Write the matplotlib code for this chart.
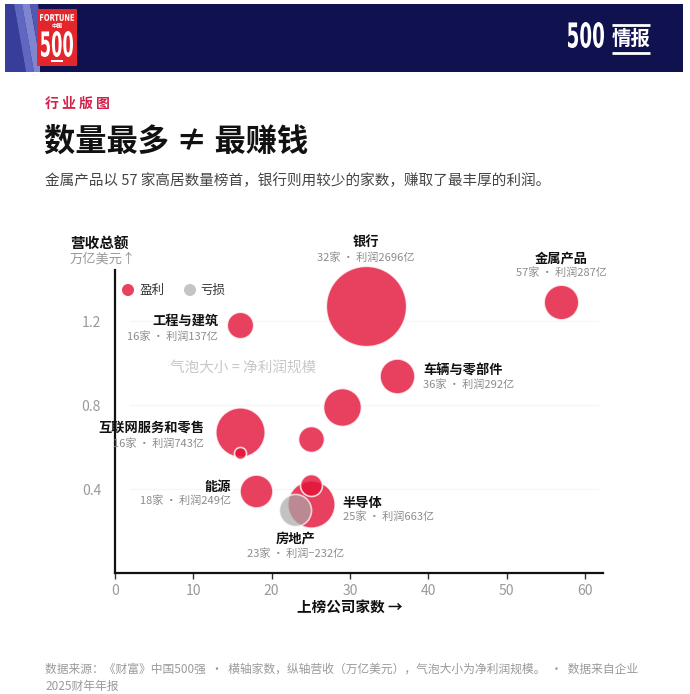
import matplotlib
matplotlib.use('Agg')
import matplotlib.pyplot as plt
from matplotlib.patches import Rectangle, Polygon, PathPatch, Circle
from matplotlib.textpath import TextPath
from matplotlib.font_manager import FontProperties
from matplotlib.transforms import Affine2D

plt.rcParams['font.family'] = ['Noto Sans CJK SC', 'DejaVu Sans']

# ---------------- data ----------------
names = ['银行', '金属产品', '工程与建筑', '车辆与零部件', '互联网服务和零售',
         '能源', '半导体', '房地产', '', '', '', '']
counts = [32, 57, 16, 36, 16, 18, 25, 23, 29, 25, 25, 16]
revenue = [1.27, 1.29, 1.18, 0.94, 0.67, 0.39, 0.33, 0.30, 0.79, 0.64, 0.42, 0.57]
profit = [2696, 287, 137, 292, 743, 249, 663, -232, 366, 130, 81, 14]
x_ticks = [0, 10, 20, 30, 40, 50, 60]
y_ticks = [0.4, 0.8, 1.2]
y_tick_labels = ['0.4', '0.8', '1.2']

# ---------------- layout / style ----------------
W, H, DPI = 690, 694, 100
RED = '#e21237'
GRAY = '#a8a8a8'
label_layout = {
    '银行': ('center', 0, 64, 49),
    '金属产品': ('center', 0, 44, 29),
    '工程与建筑': ('right', -22, 4, -11),
    '车辆与零部件': ('left', 26, 5, -9),
    '互联网服务和零售': ('right', -36, 5, -11),
    '能源': ('right', -25, 4, -10),
    '半导体': ('left', 32, 1, -13),
    '房地产': ('center', 0, -29, -44),
}


def radius_px(p):
    return 1 + 1.8 * abs(p) ** 0.39


fig = plt.figure(figsize=(W / DPI, H / DPI), dpi=DPI)
fig.patch.set_facecolor('white')

# overlay axes in pixel coordinates
ov = fig.add_axes([0, 0, 1, 1])
ov.set_xlim(0, W)
ov.set_ylim(H, 0)
ov.axis('off')


def fit_text_path(ax, s, x0, y0, x1, y1, color, family='DejaVu Sans'):
    tp = TextPath((0, 0), s, size=50, prop=FontProperties(family=family, weight='bold'))
    bb = tp.get_extents()
    sx = (x1 - x0) / bb.width
    sy = (y1 - y0) / bb.height
    tr = Affine2D().translate(-bb.x0, -bb.y0).scale(sx, -sy).translate(x0, y1)
    path = tr.transform_path(tp)
    ax.add_patch(PathPatch(path, facecolor=color, edgecolor='none', zorder=5))


# header band
ov.add_patch(Rectangle((5, 4), 678, 68, facecolor='#10114f', edgecolor='none', zorder=1))
stripe_cols = ['#3d43a3', '#6a71cf', '#8d93df', '#5a61c0']
stripes = [[(5, 4), (14, 4), (26, 72), (5, 72)],
           [(14, 4), (22, 4), (34, 72), (26, 72)],
           [(22, 4), (30, 4), (40, 60), (40, 72), (34, 72)],
           [(30, 4), (38, 4), (40, 20), (40, 60)]]
for poly, c in zip(stripes, stripe_cols):
    ov.add_patch(Polygon(poly, closed=True, facecolor=c, edgecolor='none', zorder=2, alpha=0.9))
# fortune logo
ov.add_patch(Rectangle((37, 9), 40, 57, facecolor='#e3262b', edgecolor='none', zorder=3))
fit_text_path(ov, 'FORTUNE', 40, 14, 74, 21, 'white')
ov.text(57, 26, '中国', color='white', fontsize=4, ha='center', va='center',
        fontweight='bold', zorder=6)
fit_text_path(ov, '500', 41, 31, 73, 57, 'white')
ov.add_patch(Rectangle((51, 60), 12, 2, facecolor='white', edgecolor='none', zorder=6))
# 500 情报
fit_text_path(ov, '500', 568, 22, 604, 48, 'white')
ov.text(631, 39, '情报', color='white', fontsize=14, fontweight='bold',
        ha='center', va='center', zorder=6)
ov.plot([612, 650], [25, 25], color='white', lw=2, zorder=6, solid_capstyle='butt')
ov.plot([612, 650], [53, 53], color='white', lw=2, zorder=6, solid_capstyle='butt')

# titles
ov.text(45, 104, '行 业 版 图', color='#d4204a', fontsize=10, fontweight='bold', va='center')
ov.text(44, 142, '数量最多 ≠ 最赚钱', color='#111111', fontsize=22.5, fontweight='bold', va='center')
ov.text(45, 181, '金属产品以 57 家高居数量榜首，银行则用较少的家数，赚取了最丰厚的利润。',
        color='#444444', fontsize=10.5, va='center')

# y label
ov.text(70, 243, '营收总额', color='#111111', fontsize=10.5, fontweight='bold', va='center')
ov.text(70, 259, '万亿美元↑', color='#999999', fontsize=9.5, va='center')

# legend
ov.add_patch(Circle((128, 290), 6, facecolor='#e8415f', edgecolor='none'))
ov.text(140, 290, '盈利', color='#333333', fontsize=9, va='center')
ov.add_patch(Circle((190, 290), 6, facecolor='#c4c4c4', edgecolor='none'))
ov.text(200, 290, '亏损', color='#333333', fontsize=9, va='center')

# size note
ov.text(170, 369, '气泡大小 = 净利润规模', color='#c8c8c8', fontsize=10.5, va='center')

# x label
ov.text(350, 608, '上榜公司家数 →', color='#111111', fontsize=10.5, fontweight='bold',
        ha='center', va='center')

# footer
ov.text(45, 669, '数据来源：《财富》中国500强  ·  横轴家数，纵轴营收（万亿美元），气泡大小为净利润规模。  ·  数据来自企业',
        color='#9a9a9a', fontsize=8.5, va='center')
ov.text(45, 686, '2025财年年报', color='#9a9a9a', fontsize=8.5, va='center')

# ---------------- chart axes ----------------
ax = fig.add_axes([115 / W, 1 - 573 / H, (603 - 115) / W, (573 - 270) / H])
ax.set_facecolor('none')
ax.set_xlim(0, 62.3)
ax.set_ylim(0, 1.443)
for s in ['top', 'right']:
    ax.spines[s].set_visible(False)
for s in ['left', 'bottom']:
    ax.spines[s].set_linewidth(1.6)
    ax.spines[s].set_color('#111111')
ax.set_xticks(x_ticks)
ax.set_yticks(y_ticks)
ax.set_yticklabels(y_tick_labels)
ax.tick_params(axis='x', length=4, width=1, color='#333333', labelcolor='#999999',
               labelsize=10, pad=4)
ax.tick_params(axis='y', length=0, labelcolor='#999999', labelsize=10, pad=10)
for yt in y_ticks:
    ax.axhline(yt, color='#f6f6f6', lw=1, zorder=0, xmin=0.03, xmax=0.99)

order = sorted(range(len(counts)), key=lambda i: (profit[i] < 0, -abs(profit[i])))
for i in order:
    r = radius_px(profit[i])
    s = (2 * r * 72 / DPI) ** 2
    col = RED if profit[i] >= 0 else GRAY
    a = 0.8 if profit[i] >= 0 else 0.7
    ax.scatter([counts[i]], [revenue[i]], s=s, color=col, alpha=a,
               edgecolors='white', linewidths=1.2, zorder=3, clip_on=False)

for i, nm in enumerate(names):
    if not nm:
        continue
    ha, dx, dyn, dys = label_layout[nm]
    ax.annotate(nm, (counts[i], revenue[i]), xytext=(dx, dyn), textcoords='offset pixels',
                ha=ha, va='center', fontsize=9.5, fontweight='bold', color='#111111', zorder=5)
    p = profit[i]
    ptxt = f'{p}' if p >= 0 else f'−{abs(p)}'
    ax.annotate(f'{counts[i]}家\u2009·\u2009利润{ptxt}亿', (counts[i], revenue[i]), xytext=(dx, dys),
                textcoords='offset pixels', ha=ha, va='center', fontsize=8,
                color='#8c8c8c', zorder=5)

fig.savefig('out.png', dpi=DPI)
